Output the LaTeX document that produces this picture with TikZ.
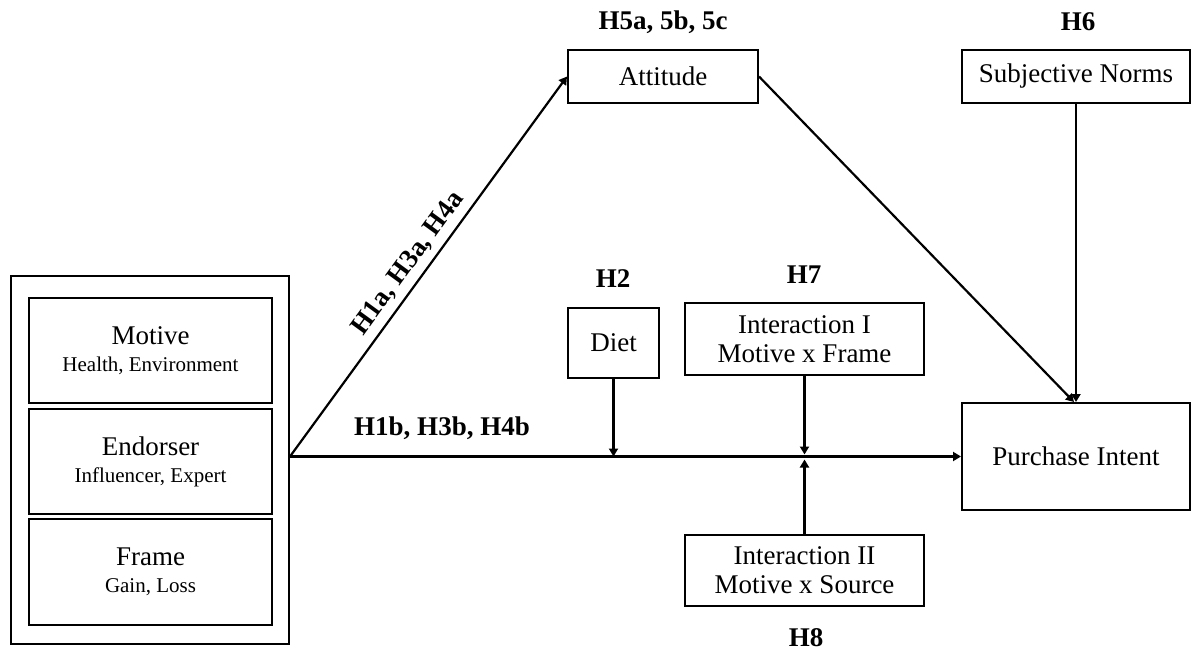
\documentclass[tikz,border=0pt]{standalone}
\usepackage{fontspec}
\setmainfont{Liberation Serif}
\usetikzlibrary{arrows.meta,calc}
\tikzset{
  box/.style={draw, line width=2pt, inner sep=0pt, align=center, font=\fontsize{27}{29}\selectfont},
  hlab/.style={font=\bfseries\fontsize{27}{29}\selectfont, inner sep=0pt},
  conn/.style={line width=2.2pt, -{Triangle[length=8pt,width=9pt]}},
}
\begin{document}
\begin{tikzpicture}[x=1pt,y=-1pt]
\useasboundingbox (0,0) rectangle (1194,652);
% left block
\node[box, minimum width=278pt, minimum height=368pt] (outer) at (150,460) {};
\node[box, minimum width=243pt, minimum height=105pt] (motive) at (150.5,350.5)
  {Motive\\[-2pt]{\fontsize{21}{23}\selectfont Health, Environment}};
\node[box, minimum width=243pt, minimum height=105pt] (endorser) at (150.5,461.5)
  {Endorser\\[-2pt]{\fontsize{21}{23}\selectfont Influencer, Expert}};
\node[box, minimum width=243pt, minimum height=106pt] (frame) at (150.5,572)
  {Frame\\[-2pt]{\fontsize{21}{23}\selectfont Gain, Loss}};
% other boxes
\node[box, minimum width=190pt, minimum height=53pt] (att) at (663,76.5) {Attitude};
\node[box, minimum width=228pt, minimum height=53pt] (sn) at (1076,76.5) {Subjective Norms};
\node[box, minimum width=228pt, minimum height=107pt] (pi) at (1076,456.5) {Purchase Intent};
\node[box, minimum width=91pt, minimum height=70pt] (diet) at (613.5,343) {Diet};
\node[box, minimum width=239pt, minimum height=72pt] (int1) at (804.5,339) {Interaction I\\Motive x Frame};
\node[box, minimum width=239pt, minimum height=71pt] (int2) at (804.5,570.5) {Interaction II\\Motive x Source};
% labels
\node[hlab] (l5) at (663,22) {H5a, 5b, 5c};
\node[hlab] (l6) at (1078,22) {H6};
\node[hlab] (l2) at (613,279) {H2};
\node[hlab] (l7) at (804,275) {H7};
\node[hlab] (l8) at (806,638) {H8};
\node[hlab] (l1b) at (442,428) {H1b, H3b, H4b};
% connectors
\coordinate (src) at (outer.east |- pi.west);
\draw[conn] (src) -- node[hlab, pos=0.48, sloped, above=6pt] {H1a, H3a, H4a} (att.west);
\draw[conn] (src) -- (pi.west);
\draw[conn] (diet.south) -- (diet.south |- pi.west);
\draw[conn, shorten >=2pt] (int1.south) -- (int1.south |- pi.west);
\draw[conn, shorten >=3pt] (int2.north) -- (int2.north |- pi.west);
\draw[conn] (att.east) -- ($(pi.north)+(-2,0)$);
\draw[conn] (sn.south) -- (pi.north);
\end{tikzpicture}
\end{document}
